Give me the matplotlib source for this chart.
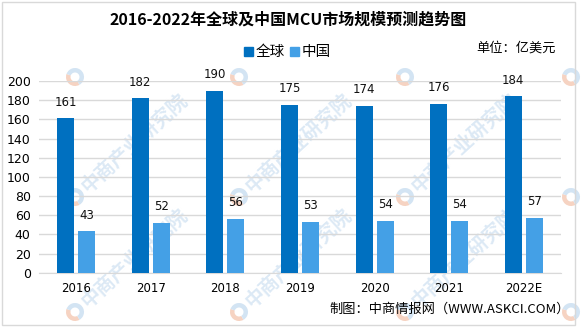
import matplotlib
matplotlib.use("Agg")
import matplotlib.pyplot as plt
from matplotlib.patches import Wedge, Rectangle
import numpy as np

plt.rcParams['font.family'] = ['Noto Sans CJK SC', 'DejaVu Sans']

years = ["2016", "2017", "2018", "2019", "2020", "2021", "2022E"]
global_mcu = [161, 182, 190, 175, 174, 176, 184]
china_mcu = [43, 52, 56, 53, 54, 54, 57]
series_names = ["全球", "中国"]

c_global = "#0070C0"
c_china = "#44A0E6"

W, H = 585, 327
fig = plt.figure(figsize=(W / 100, H / 100), dpi=100)

# background layer in pixel coordinates (watermark, frame)
bg = fig.add_axes([0, 0, 1, 1], zorder=0)
bg.set_xlim(0, W)
bg.set_ylim(H, 0)
bg.axis("off")

wm_x = [75, 239, 405, 571]
wm_y = [77, 197, 312]
for yy in wm_y:
    for xx in wm_x:
        bg.add_patch(Wedge((xx, yy), 9, 60, 200, width=4.5, color="#F6D3C2", lw=0))
        bg.add_patch(Wedge((xx, yy), 9, 200, 420, width=4.5, color="#D3E4F3", lw=0))
        if xx + 125 < W and yy > 110:
            bg.text(xx + 9, yy - 8, "中商产业研究院", rotation=42.5, rotation_mode="anchor",
                    ha="left", va="center", fontsize=14, fontweight="bold",
                    color="#DCE9F5")

bg.add_patch(Rectangle((2, 2), 573, 323, fill=False, edgecolor="#D9D9D9", lw=1))

ax = fig.add_axes([39 / W, 1 - 272.7 / H, 522 / W, 191.7 / H], zorder=1)
ax.patch.set_alpha(0)

x = np.arange(len(years))
w = 0.228
off = 0.141
b1 = ax.bar(x - off, global_mcu, w, color=c_global, zorder=3)
b2 = ax.bar(x + off, china_mcu, w, color=c_china, zorder=3)

for bars, vals in ((b1, global_mcu), (b2, china_mcu)):
    for r, v in zip(bars, vals):
        ax.annotate(f"{v}", (r.get_x() + r.get_width() / 2, v),
                    xytext=(0, 7), textcoords="offset points",
                    ha="center", va="bottom", fontsize=8.5,
                    family="DejaVu Sans", color="#111111")

ax.set_xlim(-0.5, len(years) - 0.5)
ax.set_ylim(0, 200)
ax.set_yticks(range(0, 201, 20))
ax.set_xticks(x)
ax.set_xticklabels(years, family="DejaVu Sans", fontsize=8.5)
ax.tick_params(axis="y", labelsize=9, length=0, pad=6)
ax.tick_params(axis="x", length=0, pad=7)
for lbl in ax.get_yticklabels():
    lbl.set_family("DejaVu Sans")
ax.grid(axis="y", color="#D9D9D9", linewidth=1, zorder=0)
for s in ("top", "right", "left"):
    ax.spines[s].set_visible(False)
ax.spines["bottom"].set_color("#D9D9D9")

fig.text(288 / W, 1 - 20 / H, "2016-2022年全球及中国MCU市场规模预测趋势图",
         ha="center", va="center", fontsize=11.5, fontweight="bold", zorder=5)

# legend
fig.patches.append(Rectangle((244 / W, 1 - 56 / H), 9 / W, 9 / H,
                             transform=fig.transFigure, color=c_global))
fig.text(256 / W, 1 - 52 / H, series_names[0], ha="left", va="center", fontsize=10.5)
fig.patches.append(Rectangle((290 / W, 1 - 56 / H), 9 / W, 9 / H,
                             transform=fig.transFigure, color=c_china))
fig.text(302 / W, 1 - 52 / H, series_names[1], ha="left", va="center", fontsize=10.5)

fig.text(556 / W, 1 - 48 / H, "单位：亿美元", ha="right", va="center", fontsize=9.5)
fig.text(570 / W, 1 - 309 / H, "制图：中商情报网（WWW.ASKCI.COM）",
         ha="right", va="center", fontsize=9.5)

fig.savefig("out.png", dpi=100)
